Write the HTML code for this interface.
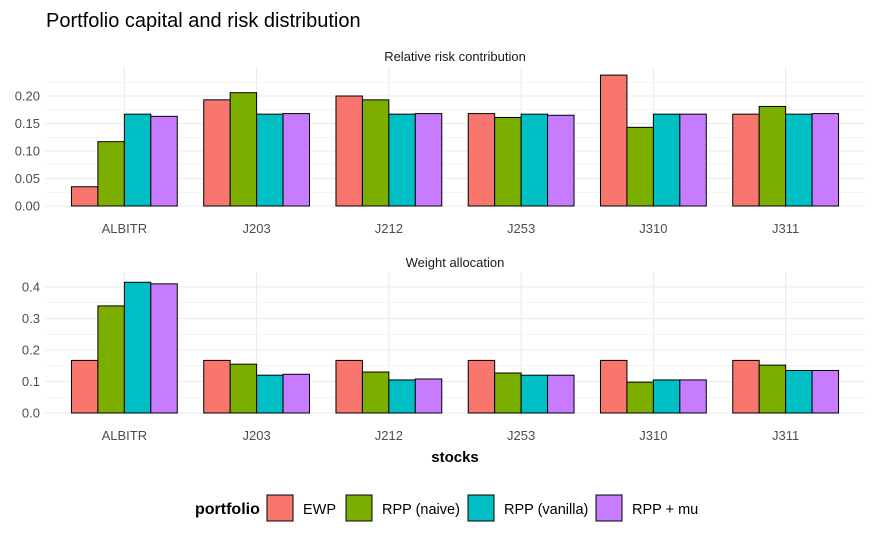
<!DOCTYPE html>
<html><head><meta charset="utf-8"><style>
body{margin:0;background:#fff;font-family:"Liberation Sans",Arial,sans-serif}
svg text{font-family:"Liberation Sans",Arial,sans-serif}
</style></head><body>
<svg id="c" width="875" height="540" xmlns="http://www.w3.org/2000/svg">
<text x="46" y="27" font-size="20" fill="#000">Portfolio capital and risk distribution</text>
<text x="455" y="61" font-size="13" text-anchor="middle" fill="#1a1a1a">Relative risk contribution</text>
<text x="455" y="267" font-size="13" text-anchor="middle" fill="#1a1a1a">Weight allocation</text>
<text x="455" y="462" font-size="15" font-weight="bold" text-anchor="middle" fill="#000">stocks</text>
<g id="g"></g>
</svg>
<script>
const categories=["ALBITR","J203","J212","J253","J310","J311"];
const series=["EWP","RPP (naive)","RPP (vanilla)","RPP + mu"];
const colors=["#F8766D","#7CAE00","#00BFC4","#C77CFF"];
const riskEWP=[0.035,0.193,0.200,0.168,0.238,0.167];
const riskNaive=[0.117,0.206,0.193,0.161,0.143,0.181];
const riskVanilla=[0.167,0.167,0.167,0.167,0.167,0.167];
const riskMu=[0.163,0.168,0.168,0.165,0.167,0.168];
const wEWP=[0.167,0.167,0.167,0.167,0.167,0.167];
const wNaive=[0.340,0.155,0.130,0.127,0.098,0.152];
const wVanilla=[0.415,0.120,0.105,0.120,0.105,0.135];
const wMu=[0.410,0.123,0.108,0.120,0.105,0.135];
const riskTicks=[0,0.05,0.10,0.15,0.20];
const riskTickLabels=["0.00","0.05","0.10","0.15","0.20"];
const wTicks=[0,0.1,0.2,0.3,0.4];
const wTickLabels=["0.0","0.1","0.2","0.3","0.4"];
const NS="http://www.w3.org/2000/svg";
const g=document.getElementById('g');
function mk(t,a,p){const e=document.createElementNS(NS,t);for(const k in a)e.setAttribute(k,a[k]);(p||g).appendChild(e);return e;}
const L=45,R=865,step=(R-L)/6.2;
const xc=i=>L+step*(0.6+i);
function panel(name,top,y0,ppu,ymax,ticks,labels,vals){
  const y=v=>y0-v*ppu;
  const pg=mk('g',{});
  
  
  for(let v=ticks[0]+(ticks[1]-ticks[0])/2;v<ymax;v+=ticks[1]-ticks[0])mk('line',{x1:L,x2:R,y1:y(v),y2:y(v),stroke:'#ebebeb','stroke-width':0.6},pg);
  ticks.forEach((t,i)=>{mk('line',{x1:L,x2:R,y1:y(t),y2:y(t),stroke:'#ebebeb','stroke-width':1.1},pg);
    const tx=mk('text',{x:L-5,y:y(t)+4.5,'font-size':13,'text-anchor':'end',fill:'#4d4d4d'},pg);tx.textContent=labels[i];
    
    });
  categories.forEach((c,i)=>{mk('line',{x1:xc(i),x2:xc(i),y1:top,y2:y0+2,stroke:'#ebebeb','stroke-width':1.1},pg);
    const tx=mk('text',{x:xc(i),y:y0+27,'font-size':13,'text-anchor':'middle',fill:'#4d4d4d'},pg);tx.textContent=c;
    
    });
  const bw=step*0.8/4;
  categories.forEach((c,i)=>{vals.forEach((arr,s)=>{
    const v=arr[i];const x=xc(i)-step*0.4+s*bw;
    const r=mk('rect',{x:x,y:y(v),width:bw,height:v*ppu,fill:colors[s],stroke:'#000','stroke-width':1},pg);
    
    });});
}
panel('risk',67,206,550,0.24,riskTicks,riskTickLabels,[riskEWP,riskNaive,riskVanilla,riskMu]);
panel('weight',272,413,315,0.44,wTicks,wTickLabels,[wEWP,wNaive,wVanilla,wMu]);
const lg=mk('g',{});


const lt=mk('text',{x:195,y:514,'font-size':16,'font-weight':'bold',fill:'#000'},lg);lt.textContent='portfolio';
const kx=[267,346,468,596];
series.forEach((s,i)=>{
  const r=mk('rect',{x:kx[i],y:495,width:26,height:26,fill:colors[i],stroke:'#000','stroke-width':1},lg);
  
  
  const t=mk('text',{x:kx[i]+36,y:514,'font-size':14.5,fill:'#000'},lg);t.textContent=s;
  
  
});
</script>
</body></html>
